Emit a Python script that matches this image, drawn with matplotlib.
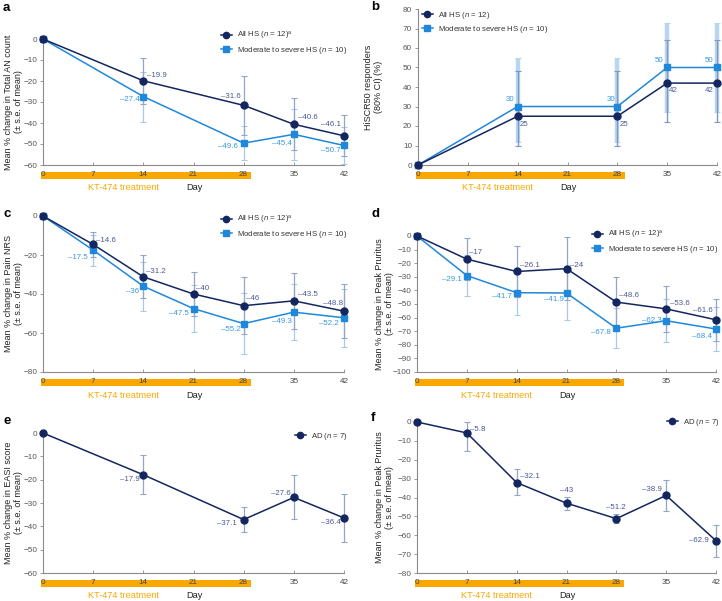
import numpy as np
import matplotlib
matplotlib.use("Agg")
import matplotlib.pyplot as plt
from matplotlib.patches import Rectangle
from matplotlib.transforms import blended_transform_factory
from matplotlib.lines import Line2D

plt.rcParams['font.family'] = ['Liberation Sans', 'DejaVu Sans']
plt.rcParams['mathtext.fontset'] = 'custom'
plt.rcParams['mathtext.rm'] = 'Liberation Sans'
plt.rcParams['mathtext.it'] = 'Liberation Sans:italic'
plt.rcParams['axes.unicode_minus'] = True

# ---------------- data ----------------
day_ticks = [0, 7, 14, 21, 28, 35, 42]

days_a = [0, 14, 28, 35, 42]
a_all = [0, -19.9, -31.6, -40.6, -46.1]
a_all_se = [0, 10.9, 14.0, 12.4, 9.8]
a_mod = [0, -27.4, -49.6, -45.4, -50.7]
a_mod_se = [0, 11.9, 8.0, 12.3, 9.0]

days_b = [0, 14, 28, 35, 42]
b_all = [0, 25, 25, 42, 42]
b_all_lo = [0, 10, 10, 22, 22]
b_all_hi = [0, 48, 48, 64, 64]
b_mod = [0, 30, 30, 50, 50]
b_mod_lo = [0, 12, 12, 27, 27]
b_mod_hi = [0, 55, 55, 73, 73]

days_c = [0, 7, 14, 21, 28, 35, 42]
c_all = [0, -14.6, -31.2, -40, -46, -43.5, -48.8]
c_all_se = [0, 6.5, 11, 11.5, 14.5, 14.5, 14]
c_mod = [0, -17.5, -36, -47.5, -55.2, -49.3, -52.2]
c_mod_se = [0, 8, 12.5, 12, 15.5, 14.5, 15]

days_d = [0, 7, 14, 21, 28, 35, 42]
d_all = [0, -17, -26.1, -24, -48.6, -53.6, -61.6]
d_all_se = [0, 15.5, 18.5, 23, 18.2, 16.8, 15.6]
d_mod = [0, -29.1, -41.7, -41.9, -67.8, -62.3, -68.4]
d_mod_se = [0, 15.2, 16.5, 19.5, 14.8, 16, 16.2]

days_e = [0, 14, 28, 35, 42]
e_ad = [0, -17.9, -37.1, -27.6, -36.4]
e_ad_se = [0, 8.3, 5.2, 9.4, 10.3]

days_f = [0, 7, 14, 21, 28, 35, 42]
f_ad = [0, -5.8, -32.1, -43, -51.2, -38.9, -62.9]
f_ad_se_up = [0, 5.8, 7.0, 3.5, 2.5, 8, 8.5]
f_ad_se_dn = [0, 9.7, 6.8, 3.5, 2.5, 8, 8.5]

lab_all12a = r'All HS ($\it{n}$ = 12)$^{\rm{a}}$'
lab_all12 = r'All HS ($\it{n}$ = 12)'
lab_mod10 = r'Moderate to severe HS ($\it{n}$ = 10)'
lab_ad7 = r'AD ($\it{n}$ = 7)'

# ---------------- style ----------------
DARK = '#14265f'
LIGHT = '#2088da'
DARK_TXT = '#4a5896'
LIGHT_TXT = '#3797e0'
DARK_ERR = '#93a6c8'
LIGHT_ERR = '#a9c9ea'
ORANGE = '#F8A800'
SPINE = '#8a8a8a'
TICK_TXT = '#555555'

W, H = 722, 601
fig = plt.figure(figsize=(W / 100, H / 100), dpi=100)


def add_axes(left, right, top, bottom):
    return fig.add_axes([left / W, 1 - bottom / H, (right - left) / W, (bottom - top) / H])


def style_axes(ax, ylim, ystep, ylabel, label_x, hpx):
    ax.set_xlim(0, 42)
    ax.set_ylim(*ylim)
    ax.set_xticks(day_ticks)
    ax.set_yticks(np.arange(ylim[0], ylim[1] + 0.1, ystep))
    for s in ['top', 'right']:
        ax.spines[s].set_visible(False)
    for s in ['left', 'bottom']:
        ax.spines[s].set_color(SPINE)
        ax.spines[s].set_linewidth(0.8)
    ax.tick_params(axis='x', direction='in', length=2.5, width=0.6, color=SPINE,
                   labelsize=5.9, labelcolor='#444444', pad=4.0)
    ax.tick_params(axis='y', direction='out', length=2.2, width=0.6, color=SPINE,
                   labelsize=5.9, labelcolor=TICK_TXT, pad=2)
    ax.set_ylabel(ylabel, fontsize=6.5, color='#222222', linespacing=1.15)
    ax.yaxis.set_label_coords(label_x, 0.5)
    trans = blended_transform_factory(ax.transData, ax.transAxes)
    ax.add_patch(Rectangle((-0.25, -13.5 / hpx), 29.3, 7.0 / hpx, transform=trans,
                           facecolor=ORANGE, edgecolor='none', clip_on=False, zorder=0))
    ax.text(11.2, -23 / hpx, 'KT-474 treatment', transform=trans, color=ORANGE,
            fontsize=6.6, ha='center', va='center')
    ax.text(21.1, -23 / hpx, 'Day', transform=trans, color='#222222',
            fontsize=6.6, ha='center', va='center')


def series(ax, x, y, lo_err, hi_err, color, err_color, marker, ms, elw=0.9, ez=2):
    ax.errorbar(x[1:], y[1:], yerr=[lo_err[1:], hi_err[1:]], fmt='none', ecolor=err_color,
                elinewidth=elw, capsize=2, capthick=0.8, zorder=ez, clip_on=False)
    ax.plot(x, y, color=color, lw=1.1, marker=marker, ms=ms, mfc=color, mec=color,
            zorder=4, clip_on=False)


def annotate(ax, x, y, offs, color, fmt):
    for xi, yi, (dx, dy, ha) in zip(x[1:], y[1:], offs):
        ax.annotate(fmt(yi), (xi, yi), xytext=(dx, dy), textcoords='offset pixels',
                    ha=ha, va='center', fontsize=5.7, color=color, zorder=5)


def neg(v):
    s = ('%g' % abs(v))
    return ('\u2013' + s) if v < 0 else s


def legend(ax, handles, labels, xpx, ypx):
    ax.legend(handles, labels, loc='upper left', bbox_to_anchor=(xpx / W, 1 - ypx / H),
              bbox_transform=fig.transFigure, frameon=False, fontsize=5.6,
              handlelength=1.4, handletextpad=0.6, labelspacing=0.35, borderpad=0,
              borderaxespad=0, labelcolor='#333333')


h_dark = Line2D([], [], color=DARK, marker='o', ms=4.5, lw=1.1)
h_light = Line2D([], [], color=LIGHT, marker='s', ms=4.5, lw=1.1)

# ---------------- panel a ----------------
ax = add_axes(43, 344, 39, 165)
style_axes(ax, (-60, 0), 10, 'Mean % change in Total AN count\n(± s.e. of mean)', -0.066, 126)
series(ax, days_a, a_mod, a_mod_se, a_mod_se, LIGHT, LIGHT_ERR, 's', 5)
series(ax, days_a, a_all, a_all_se, a_all_se, DARK, DARK_ERR, 'o', 5)
annotate(ax, days_a, a_all, [(4, 5, 'left'), (-3, 9, 'right'), (4, 7, 'left'), (-3, 11, 'right')], DARK_TXT, neg)
annotate(ax, days_a, a_mod, [(-3, -3, 'right'), (-6, -3, 'right'), (-2, -9, 'right'), (-3, -5, 'right')], LIGHT_TXT, neg)
legend(ax, [h_dark, h_light], [lab_all12a, lab_mod10], 221, 30)

# ---------------- panel b ----------------
ax = add_axes(418, 717, 9, 165)
style_axes(ax, (0, 80), 10, 'HiSCR50 responders\n(80% CI) (%)', -0.117, 156)
bm = np.array(b_mod); ba = np.array(b_all)
series(ax, days_b, b_mod, list(bm - np.array(b_mod_lo)), list(np.array(b_mod_hi) - bm),
       LIGHT, '#b9d6f1', 's', 5, elw=3.2, ez=1)
series(ax, days_b, b_all, list(ba - np.array(b_all_lo)), list(np.array(b_all_hi) - ba),
       DARK, '#7d98c2', 'o', 5, elw=1.0, ez=2)
fmt_int = lambda v: '%g' % v
annotate(ax, days_b, b_all, [(2, -8, 'left'), (2, -8, 'left'), (2, -7, 'left'), (-3, -7, 'right')], DARK_TXT, fmt_int)
annotate(ax, days_b, b_mod, [(-3, 7, 'right'), (-2, 7, 'right'), (-4, 7, 'right'), (-4, 7, 'right')], LIGHT_TXT, fmt_int)
legend(ax, [h_dark, h_light], [lab_all12, lab_mod10], 422, 10)

# ---------------- panel c ----------------
ax = add_axes(43, 344, 216, 372)
style_axes(ax, (-80, 0), 20, 'Mean % change in Pain NRS\n(± s.e. of mean)', -0.066, 156)
series(ax, days_c, c_mod, c_mod_se, c_mod_se, LIGHT, LIGHT_ERR, 's', 5)
series(ax, days_c, c_all, c_all_se, c_all_se, DARK, DARK_ERR, 'o', 5)
annotate(ax, days_c, c_all, [(3, 4, 'left'), (3, 5, 'left'), (3, 5, 'left'), (2, 7, 'left'),
                             (4, 6, 'left'), (-1, 8, 'right')], DARK_TXT, neg)
annotate(ax, days_c, c_mod, [(-5, -7, 'right'), (-4, -5, 'right'), (-5, -5, 'right'), (-3, -6, 'right'),
                             (-2, -9, 'right'), (-5, -6, 'right')], LIGHT_TXT, neg)
legend(ax, [h_dark, h_light], [lab_all12a, lab_mod10], 221, 214)

# ---------------- panel d ----------------
ax = add_axes(417, 716, 236, 372)
style_axes(ax, (-100, 0), 10, 'Mean % change in Peak Pruritus\n(± s.e. of mean)', -0.077, 136)
series(ax, days_d, d_mod, d_mod_se, d_mod_se, LIGHT, LIGHT_ERR, 's', 5)
series(ax, days_d, d_all, d_all_se, d_all_se, DARK, DARK_ERR, 'o', 5)
annotate(ax, days_d, d_all, [(2, 7, 'left'), (3, 6, 'left'), (4, 3, 'left'), (3, 7, 'left'),
                             (4, 5, 'left'), (-3, 9, 'right')], DARK_TXT, neg)
annotate(ax, days_d, d_mod, [(-5, -4, 'right'), (-5, -4, 'right'), (-3, -7, 'right'), (-5, -4, 'right'),
                             (-4, 0, 'right'), (-4, -7, 'right')], LIGHT_TXT, neg)
legend(ax, [h_dark, h_light], [lab_all12a, lab_mod10], 592, 229)

# ---------------- panel e ----------------
ax = add_axes(43, 344, 433, 573)
style_axes(ax, (-60, 0), 10, 'Mean % change in EASI score\n(± s.e. of mean)', -0.066, 140)
series(ax, days_e, e_ad, e_ad_se, e_ad_se, DARK, DARK_ERR, 'o', 5)
annotate(ax, days_e, e_ad, [(-4, -5, 'right'), (-7, -4, 'right'), (-3, 4, 'right'), (-3, -5, 'right')], DARK_TXT, neg)
legend(ax, [h_dark], [lab_ad7], 295, 431)

# ---------------- panel f ----------------
ax = add_axes(417, 716, 422, 573)
style_axes(ax, (-80, 0), 10, 'Mean % change in Peak Pruritus\n(± s.e. of mean)', -0.077, 151)
series(ax, days_f, f_ad, f_ad_se_dn, f_ad_se_up, DARK, DARK_ERR, 'o', 5)
annotate(ax, days_f, f_ad, [(3, 3, 'left'), (3, 6, 'left'), (0, 13, 'center'), (0, 11, 'center'),
                            (-4, 6, 'right'), (-7, 0, 'right')], DARK_TXT, neg)
legend(ax, [h_dark], [lab_ad7], 667, 417)

# ---------------- panel letters ----------------
for lt, (xp, yp) in zip('abcdef', [(3, 8), (371, 7), (3, 214), (371, 214), (3, 421), (371, 418)]):
    fig.text(xp / W, 1 - yp / H, lt, fontsize=9.5, fontweight='bold', ha='left', va='center')

fig.savefig('out.png', dpi=100)
